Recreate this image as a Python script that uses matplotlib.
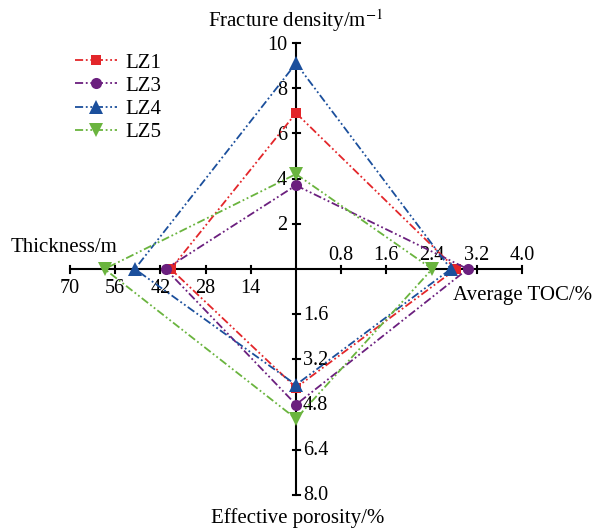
import numpy as np
import matplotlib.pyplot as plt

plt.rcParams['font.family'] = ['Liberation Serif', 'DejaVu Serif']
plt.rcParams['mathtext.fontset'] = 'stix'

# data
series = ['LZ1', 'LZ3', 'LZ4', 'LZ5']
fracture_density = [6.9, 3.7, 9.1, 4.2]
avg_toc = [2.83, 3.04, 2.74, 2.41]
effective_porosity = [4.2, 4.8, 4.1, 5.3]
thickness = [38.8, 40.4, 49.9, 59.3]

fd_ticks = [2, 4, 6, 8, 10]
toc_ticks = [0.8, 1.6, 2.4, 3.2, 4.0]
por_ticks = [1.6, 3.2, 4.8, 6.4, 8.0]
thick_ticks = [70, 56, 42, 28, 14]
fd_max, toc_max, por_max, thick_max = 10, 4.0, 8.0, 70

colors = ['#e3262a', '#6b1f7e', '#1b4f9c', '#6ab43e']
markers = ['s', 'o', '^', 'v']
msizes = [7.5, 8, 9.5, 9.5]

W, H = 595, 528
cx, cy = 296, 269   # centre in pixels
R = 226             # spoke length in pixels


def P(x, y):
    # pixel position -> data coords (for text placement)
    return (x - cx) / R, (cy - y) / R


fig = plt.figure(figsize=(W / 100, H / 100), dpi=100)
ax = fig.add_axes([0, 0, 1, 1])
ax.set_xlim(-cx / R, (W - cx) / R)
ax.set_ylim(-(H - cy) / R, cy / R)
ax.axis('off')

# spokes
ax.plot([-1, 1], [0, 0], color='black', lw=1.5, zorder=2)
ax.plot([0, 0], [-1, 1], color='black', lw=1.5, zorder=2)
h = 3.5 / R
fs = 14.5
for t in fd_ticks:
    v = t / fd_max
    ax.plot([-h, h], [v, v], color='black', lw=1.5)
    ax.text(-9 / R, v - 2 / R, str(t), ha='right', va='center', fontsize=fs)
for t in toc_ticks:
    v = t / toc_max
    ax.plot([v, v], [-h, h], color='black', lw=1.5)
    ax.text(v, 9 / R, f'{t:.1f}', ha='center', va='baseline', fontsize=fs)
for t in thick_ticks:
    v = -t / thick_max
    ax.plot([v, v], [-h, h], color='black', lw=1.5)
    ax.text(v, -24 / R, str(t), ha='center', va='baseline', fontsize=fs)
for t in por_ticks:
    v = -t / por_max
    ax.plot([-h, h], [v, v], color='black', lw=1.5)
    ax.text(7 / R, v - 1 / R, f'{t:.1f}', ha='left', va='center', fontsize=fs)

# axis titles
ax.text(*P(296, 27), r'Fracture density/m$^{-1}$', ha='center', va='baseline', fontsize=15)
ax.text(*P(11, 252), 'Thickness/m', ha='left', va='baseline', fontsize=15)
ax.text(*P(453, 300), 'Average TOC/%', ha='left', va='baseline', fontsize=15)
ax.text(*P(298, 523), 'Effective porosity/%', ha='center', va='baseline', fontsize=15)

# series polygons
for i, name in enumerate(series):
    xs = [0, avg_toc[i] / toc_max, 0, -thickness[i] / thick_max, 0]
    ys = [fracture_density[i] / fd_max, 0, -effective_porosity[i] / por_max, 0,
          fracture_density[i] / fd_max]
    ax.plot(xs, ys, color=colors[i], lw=1.3, dashes=(4.5, 1.5, 1, 1.5, 1, 1.5),
            marker=markers[i], markersize=msizes[i], markevery=[0, 1, 2, 3],
            markeredgewidth=0, label=name, zorder=3 + i)

ax.legend(loc='upper left', bbox_to_anchor=(75 / W, 1 - 53 / H),
          bbox_transform=fig.transFigure, frameon=False, fontsize=15,
          borderpad=0, borderaxespad=0, handlelength=2.0, handletextpad=0.4,
          labelspacing=0.17, numpoints=1)

fig.savefig('out.png', dpi=100)
